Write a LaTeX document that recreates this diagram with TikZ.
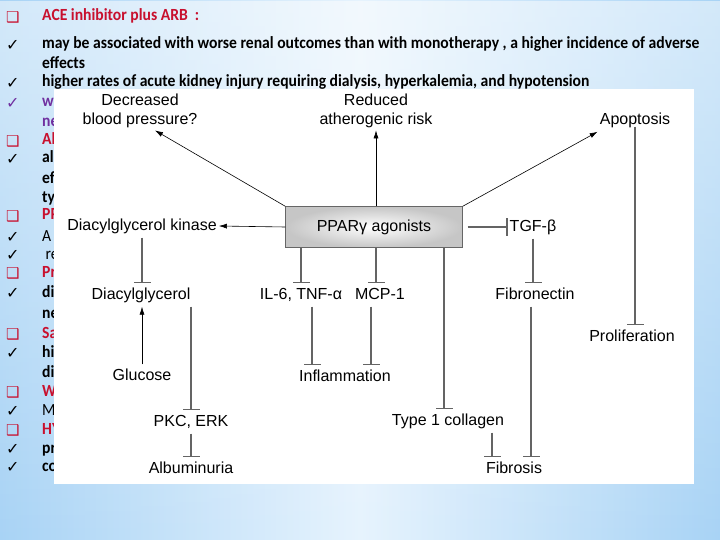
\documentclass[tikz,border=0pt]{standalone}
\usepackage{fontspec}
\setmainfont{Carlito}
\newfontfamily\slidefont[FakeStretch=0.92]{Carlito}
\newfontfamily\diafont{Liberation Sans}
\newfontfamily\symfont{DejaVu Sans}
\usetikzlibrary{positioning,arrows.meta,fadings}
\definecolor{HeadRed}{RGB}{200,16,46}
\definecolor{NotePurple}{RGB}{112,48,160}
\definecolor{SkyBlue}{RGB}{168,211,245}
\definecolor{PaleBlue}{RGB}{230,243,253}
\definecolor{InhGray}{RGB}{100,100,100}
\newcommand{\qbox}{{\symfont\fontsize{15}{18}\selectfont ❑}}
\newcommand{\ckmark}{{\symfont\fontsize{16}{18}\selectfont ✓}}

\begin{document}
\begin{tikzpicture}[
    x=1pt,y=-1pt,
    line/.style={anchor=west,inner sep=0pt,text height=11pt,text depth=3pt,
      font=\slidefont\bfseries\fontsize{17}{20}\selectfont},
    head/.style={line,text=HeadRed,label={[text=HeadRed,label distance=19pt]left:\qbox}},
    tick/.style={line,label={[label distance=19pt]left:\ckmark}},
    thin/.style={font=\slidefont\mdseries\fontsize{17}{20}\selectfont},
    lbl/.style={font=\diafont\fontsize{16}{19.5}\selectfont,inner xsep=2pt,inner ysep=4pt,
      text height=12pt,text depth=3pt},
    lbltwo/.style={font=\diafont\fontsize{16}{19.5}\selectfont,align=center,inner sep=2pt},
    agonist/.style={rectangle,draw=gray!80!black,inner color=white,outer color=gray!45,
      minimum width=177pt,minimum height=41pt,font=\diafont\fontsize{16}{19.5}\selectfont},
    arr/.style={-{Latex[length=8pt,width=5pt]},line width=0.6pt},
    inh/.style={-{Bar[width=17pt]},draw=InhGray,line width=1.2pt}
]
\useasboundingbox (0,0) rectangle (720,540);

% Slide background
\shade[left color=SkyBlue,right color=SkyBlue,middle color=PaleBlue] (0,0) rectangle (720,540);
\fill[white,opacity=0.5,path fading=south] (0,0) rectangle (720,540);

% Bullet text
\node[head] (t1) at (42,17) {ACE inhibitor plus ARB\ \ :};
\node[tick] (t2) at (42,45) {may be associated with worse renal outcomes than with monotherapy , a higher incidence of adverse};
\node[line] (t3) at (42,65) {effects};
\node[tick] (t4) at (42,83) {higher rates of acute kidney injury requiring dialysis, hyperkalemia, and hypotension};
\node[line,text=NotePurple,label={[text=NotePurple,label distance=19pt]left:\ckmark}] (t5) at (42,103) {w};
\node[line,text=NotePurple] (t6) at (42,123) {ne};
\node[head] (t7) at (42,141) {Al};
\node[tick] (t8) at (42,159) {al};
\node[line] (t9) at (42,180) {ef};
\node[line] (t10) at (42,199) {ty};
\node[head] (t11) at (42,216) {PP};
\node[tick,thin] (t12) at (42,237) {A};
\node[tick,thin] (t13) at (42,255) {\ re};
\node[head] (t14) at (42,273) {Pr};
\node[tick] (t15) at (42,293) {di};
\node[line] (t16) at (42,314) {ne};
\node[head] (t17) at (42,334) {Sa};
\node[tick] (t18) at (42,353) {hi};
\node[line] (t19) at (42,373) {di};
\node[head] (t20) at (42,392) {W};
\node[tick,thin] (t21) at (42,411) {M};
\node[head] (t22) at (42,430) {HY};
\node[tick] (t23) at (42,449) {pr};
\node[tick] (t24) at (42,467) {co};

% Figure panel
\node[fill=white,inner sep=0pt,minimum width=640pt,minimum height=395pt] (panel) at (374,286.5) {};

% Nodes
\node[lbltwo] (dbp) at (140,111) {Decreased\\blood pressure?};
\node[lbltwo] (rar) at (376,111) {Reduced\\atherogenic risk};
\node[lbl] (apo) at (635,120) {Apoptosis};
\node[agonist] (ppar) at (374,227) {PPARγ agonists};
\node[lbl] (dgk) at (142,226) {Diacylglycerol kinase};
\node[lbl] (tgf) at (533,227) {TGF-β};
\node[lbl] (dag) at (141,295) {Diacylglycerol};
\node[lbl] (il6) at (301,295) {IL-6, TNF-α};
\node[lbl] (mcp) at (380,295) {MCP-1};
\node[lbl] (fbn) at (535,295) {Fibronectin};
\node[lbl] (pro) at (632,337) {Proliferation};
\node[lbl] (glu) at (142,376) {Glucose};
\node[lbl] (infl) at (345,377) {Inflammation};
\node[lbl] (pkc) at (191,422) {PKC, ERK};
\node[lbl] (col) at (448,421) {Type 1 collagen};
\node[lbl] (alb) at (191,469) {Albuminuria};
\node[lbl] (fib) at (514,469) {Fibrosis};

% Activation
\draw[arr] (ppar.north west) -- ([xshift=15pt]dbp.south);
\draw[arr] (ppar.north -| rar) -- (rar.south);
\draw[arr] (ppar.north east) -- (apo.south west);
\draw[arr] (ppar.west) -- (dgk.east);
\draw[arr] (glu.north) -- (glu.north |- dag.south);

% Inhibition
\draw[inh] ([xshift=5pt]ppar.east) -- (tgf.west);
\draw[inh] (ppar.south -| il6) -- (il6.north);
\draw[inh] (ppar.south -| rar) -- (rar |- mcp.north);
\draw[inh] ([xshift=-4pt]col.north |- ppar.south) -- ([xshift=-4pt]col.north);
\draw[inh] (dgk.south) -- (dgk.south |- dag.north);
\draw[inh] (dag.south -| pkc) -- (pkc.north);
\draw[inh] (pkc.south) -- (alb.north);
\draw[inh] ([xshift=11pt]il6.south) -- ([xshift=11pt]il6.south |- infl.north);
\draw[inh] ([xshift=-9pt]mcp.south) -- ([xshift=-9pt]mcp.south |- infl.north);
\draw[inh] (tgf.south) -- (tgf.south |- fbn.north);
\draw[inh] ([xshift=-4pt]fbn.south) -- ([xshift=-4pt]fbn.south |- fib.north);
\draw[inh] ([xshift=44pt]col.south) -- ([xshift=44pt]col.south |- fib.north);
\draw[inh] ([yshift=5pt]apo.south) -- (apo.south |- pro.north);
\end{tikzpicture}
\end{document}
